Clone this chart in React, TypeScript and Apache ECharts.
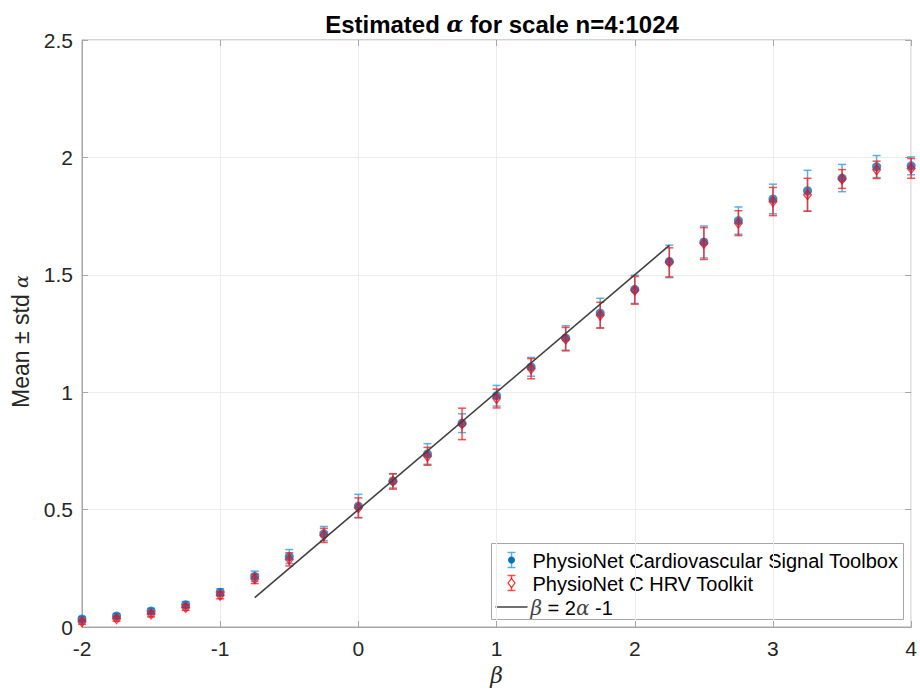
import React, { useEffect, useRef } from "react";
import * as echarts from "echarts";

const beta = [-2, -1.75, -1.5, -1.25, -1, -0.75, -0.5, -0.25, 0, 0.25, 0.5, 0.75, 1, 1.25, 1.5, 1.75, 2, 2.25, 2.5, 2.75, 3, 3.25, 3.5, 3.75, 4];
const blueMean = [0.034, 0.047, 0.068, 0.095, 0.148, 0.216, 0.3, 0.398, 0.515, 0.622, 0.737, 0.868, 0.985, 1.108, 1.231, 1.337, 1.438, 1.557, 1.64, 1.731, 1.823, 1.858, 1.912, 1.961, 1.964];
const blueStd = [0.01, 0.01, 0.012, 0.013, 0.015, 0.022, 0.03, 0.03, 0.05, 0.03, 0.044, 0.04, 0.044, 0.04, 0.052, 0.063, 0.06, 0.069, 0.068, 0.058, 0.063, 0.087, 0.058, 0.047, 0.038];
const redMean = [0.022, 0.035, 0.055, 0.083, 0.135, 0.205, 0.288, 0.39, 0.508, 0.62, 0.727, 0.865, 0.973, 1.1, 1.226, 1.328, 1.434, 1.553, 1.633, 1.72, 1.812, 1.841, 1.908, 1.947, 1.953];
const redStd = [0.01, 0.01, 0.012, 0.012, 0.015, 0.02, 0.028, 0.03, 0.042, 0.033, 0.038, 0.067, 0.04, 0.043, 0.05, 0.055, 0.059, 0.062, 0.068, 0.053, 0.06, 0.07, 0.04, 0.037, 0.042];
const lineBeta = [-0.75, 2.25];

const seriesNames = ["PhysioNet Cardiovascular Signal Toolbox", "PhysioNet C HRV Toolkit", "β = 2α -1"];

const FONT = "'Liberation Sans', Arial, Helvetica, sans-serif";
const SERIF = "'DejaVu Serif', 'Liberation Serif', serif";
const BLUE = "#0072BD";
const BLUE_BAR = "rgba(77,166,224,0.9)";
const RED = "rgba(255,0,0,0.85)";
const RED_BAR = "rgba(255,30,30,0.78)";
const AXIS = "#a6a6a6";

function errRender(color: string) {
  return (params: any, api: any) => {
    const x = api.value(0);
    const m = api.value(1);
    const s = api.value(2);
    const top = api.coord([x, m + s]);
    const bot = api.coord([x, m - s]);
    const hw = 4;
    const style = { stroke: color, lineWidth: 1.5 };
    return {
      type: "group",
      children: [
        { type: "line", shape: { x1: top[0], y1: top[1], x2: bot[0], y2: bot[1] }, style },
        { type: "line", shape: { x1: top[0] - hw, y1: top[1], x2: top[0] + hw, y2: top[1] }, style },
        { type: "line", shape: { x1: bot[0] - hw, y1: bot[1], x2: bot[0] + hw, y2: bot[1] }, style },
      ],
    };
  };
}

export default function App() {
  const ref = useRef<HTMLDivElement>(null);
  useEffect(() => {
    if (!ref.current) return;
    const chart = echarts.init(ref.current, null, { renderer: "svg" });
    const blueErr = beta.map((b, i) => [b, blueMean[i], blueStd[i]]);
    const redErr = beta.map((b, i) => [b, redMean[i], redStd[i]]);
    const bluePts = beta.map((b, i) => [b, blueMean[i]]);
    const redPts = beta.map((b, i) => [b, redMean[i]]);
    const linePts = lineBeta.map((b) => [b, (b + 1) / 2]);

    const axisCommon = {
      axisLine: { show: true, onZero: false, lineStyle: { color: AXIS, width: 1 } },
      axisTick: { show: true, inside: true, length: 6, lineStyle: { color: AXIS } },
      splitLine: { show: true, lineStyle: { color: "#ececec", width: 1 } },
    };
    const hiddenAxis = {
      axisLine: { show: false, onZero: false },
      axisTick: { show: true, inside: true, length: 6, lineStyle: { color: AXIS } },
      axisLabel: { show: false },
      splitLine: { show: false },
    };

    const lx = 491, ly = 543;
    chart.setOption({
      animation: false,
      backgroundColor: "#fff",
      title: {
        text: "{b|Estimated }{a|α}{b| for scale n=4:1024}",
        left: 497,
        textAlign: "center",
        top: 7,
        textStyle: {
          rich: {
            b: { fontFamily: FONT, fontWeight: "bold", fontSize: 24, color: "#000" },
            a: { fontFamily: SERIF, fontStyle: "italic", fontSize: 22, color: "#000" },
          },
        },
      },
      grid: { left: 82, right: 8, top: 40, bottom: 60, show: true, borderColor: AXIS, borderWidth: 1, backgroundColor: "transparent" },
      xAxis: [
        {
          type: "value",
          min: -2,
          max: 4,
          interval: 1,
          ...axisCommon,
          axisLabel: { color: "#262626", fontSize: 21, fontFamily: FONT, margin: 11 },
          name: "β",
          nameLocation: "middle",
          nameGap: 37,
          nameTextStyle: { fontFamily: SERIF, fontStyle: "italic", fontSize: 22, color: "#262626" },
        },
        { type: "value", position: "top", min: -2, max: 4, interval: 1, ...hiddenAxis },
      ],
      yAxis: [
        {
          type: "value",
          min: 0,
          max: 2.5,
          interval: 0.5,
          ...axisCommon,
          axisLabel: { color: "#262626", fontSize: 21, fontFamily: FONT, margin: 9 },
          name: "{n|Mean ± std }{a|α}",
          nameLocation: "middle",
          nameGap: 49,
          nameRotate: 90,
          nameTextStyle: {
            padding: [0, 16, 0, 0],
            rich: {
              n: { fontFamily: FONT, fontSize: 23, color: "#262626" },
              a: { fontFamily: SERIF, fontStyle: "italic", fontSize: 19, color: "#262626" },
            },
          },
        },
        { type: "value", position: "right", min: 0, max: 2.5, interval: 0.5, ...hiddenAxis },
      ],
      series: [
        {
          name: seriesNames[0] + " err",
          type: "custom",
          renderItem: errRender(BLUE_BAR),
          data: blueErr,
          encode: { x: 0, y: 1 },
          z: 2,
        },
        {
          name: seriesNames[0],
          type: "scatter",
          data: bluePts,
          symbol: "circle",
          symbolSize: 9,
          itemStyle: { color: BLUE },
          clip: false,
          z: 3,
        },
        {
          name: seriesNames[1] + " err",
          type: "custom",
          renderItem: errRender(RED_BAR),
          data: redErr,
          encode: { x: 0, y: 1 },
          z: 4,
        },
        {
          name: seriesNames[1],
          type: "scatter",
          data: redPts,
          symbol: "diamond",
          symbolSize: [8, 10],
          itemStyle: { color: "rgba(190,0,50,0.4)", borderColor: RED, borderWidth: 1.2 },
          clip: false,
          z: 5,
        },
        {
          name: seriesNames[2],
          type: "line",
          data: linePts,
          showSymbol: false,
          lineStyle: { color: "#404040", width: 1.6 },
          z: 6,
        },
      ],
      graphic: [
        {
          type: "group",
          left: lx,
          top: ly,
          children: [
            { type: "rect", shape: { x: 0, y: 0, width: 412, height: 76 }, style: { fill: "#fff", stroke: AXIS, lineWidth: 1 } },
            { type: "line", shape: { x1: 20, y1: 9, x2: 20, y2: 24 }, style: { stroke: BLUE_BAR, lineWidth: 1.5 } },
            { type: "line", shape: { x1: 16, y1: 9, x2: 24, y2: 9 }, style: { stroke: BLUE_BAR, lineWidth: 1.5 } },
            { type: "line", shape: { x1: 16, y1: 24, x2: 24, y2: 24 }, style: { stroke: BLUE_BAR, lineWidth: 1.5 } },
            { type: "circle", shape: { cx: 20, cy: 16.5, r: 3.5 }, style: { fill: BLUE } },
            { type: "text", style: { x: 41, y: 17, text: seriesNames[0], fontFamily: FONT, fontSize: 20, fill: "#000", verticalAlign: "middle" } },
            { type: "line", shape: { x1: 20, y1: 32, x2: 20, y2: 47 }, style: { stroke: RED_BAR, lineWidth: 1.5 } },
            { type: "line", shape: { x1: 16, y1: 32, x2: 24, y2: 32 }, style: { stroke: RED_BAR, lineWidth: 1.5 } },
            { type: "line", shape: { x1: 16, y1: 47, x2: 24, y2: 47 }, style: { stroke: RED_BAR, lineWidth: 1.5 } },
            { type: "polygon", shape: { points: [[20, 35], [23.5, 39.5], [20, 44], [16.5, 39.5]] }, style: { fill: "#fff", stroke: RED, lineWidth: 1.2 } },
            { type: "text", style: { x: 41, y: 40, text: seriesNames[1], fontFamily: FONT, fontSize: 20, fill: "#000", verticalAlign: "middle" } },
            { type: "line", shape: { x1: 4, y1: 63.5, x2: 36, y2: 63.5 }, style: { stroke: "#404040", lineWidth: 1.6 } },
            {
              type: "text",
              style: {
                x: 39,
                y: 64,
                text: "{a|β}{n| = 2}{a|α}{n| -1}",
                verticalAlign: "middle",
                rich: {
                  a: { fontFamily: SERIF, fontStyle: "italic", fontSize: 20, fill: "#444", color: "#444" },
                  n: { fontFamily: FONT, fontSize: 20, fill: "#000", color: "#000" },
                },
              },
            },
          ],
        },
      ],
    });
    return () => chart.dispose();
  }, []);
  return <div ref={ref} style={{ width: 920, height: 691, position: "absolute", left: 0, top: 0 }} />;
}
